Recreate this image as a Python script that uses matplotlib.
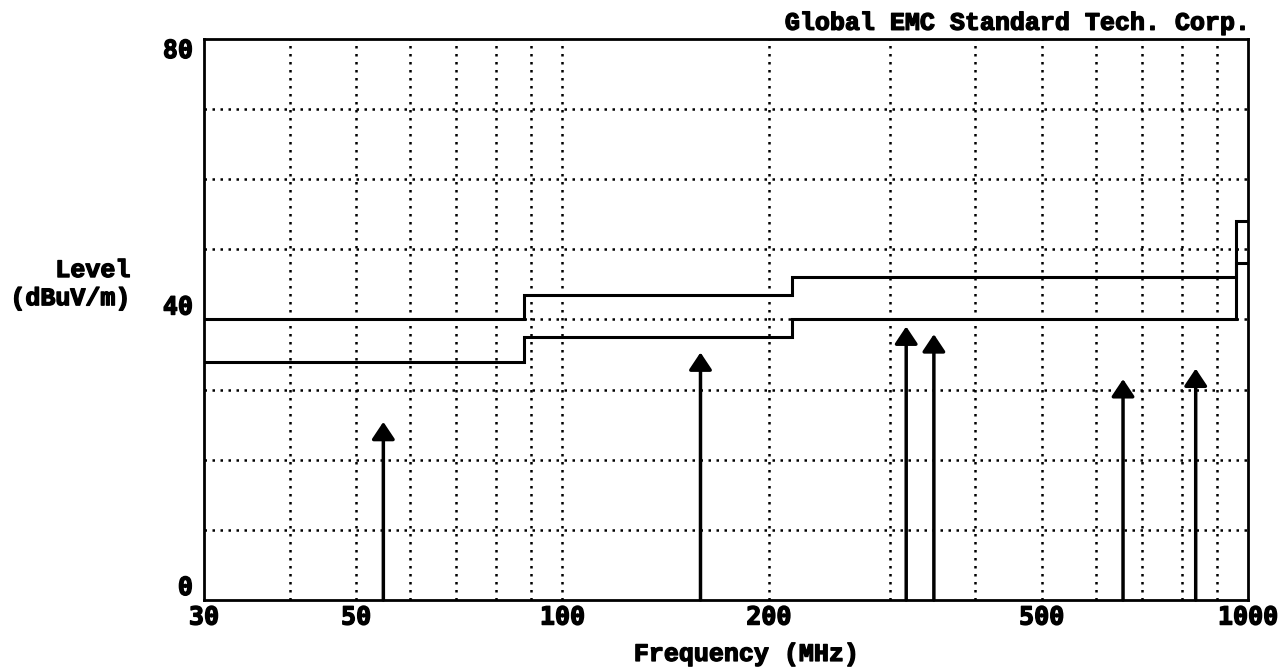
import numpy as np
import matplotlib
matplotlib.use("Agg")
import matplotlib.pyplot as plt
import matplotlib.patheffects as pe
from matplotlib.ticker import FixedLocator, NullFormatter

# limit lines (dBuV/m), stepped at the band edges
band_edges = [30, 88, 216, 960, 1000]
qp_limit = [40, 43.5, 46, 54]
margin_line = [34, 37.5, 40, 48]

# measured emission peaks
peak_freq = [54.8, 159.0, 317.3, 348.2, 657.3, 839.0]
peak_level = [25.4, 35.3, 39.0, 37.9, 31.5, 33.0]

xtick_vals = [30, 50, 100, 200, 500, 1000]
xtick_text = ["30", "50", "100", "200", "500", "1000"]
ytick_vals = [0, 40, 80]
ytick_text = ["0", "40", "80"]
grid_freqs = [40, 50, 60, 70, 80, 90, 100, 200, 300, 400, 500, 600, 700, 800, 900]
grid_levels = [10, 20, 30, 40, 50, 60, 70]

mono = "Liberation Mono"
digits = "DejaVu Sans Mono"
heavy = [pe.withStroke(linewidth=1.0, foreground="black")]

fig = plt.figure(figsize=(12.78, 6.70), dpi=100)
ax = fig.add_axes([0.1596, 0.1045, 0.8169, 0.8373])
ax.set_xscale("log")
ax.set_xlim(30, 1000)
ax.set_ylim(0, 80)

# dotted grid
dots = (0, (1, 2.2))
for f in grid_freqs:
    ax.axvline(f, color="black", lw=1.8, ls=dots, zorder=1)
for lv in grid_levels:
    ax.axhline(lv, color="black", lw=1.8, ls=dots, zorder=1)

def stepped(edges, vals):
    xs, ys = [], []
    for i, v in enumerate(vals):
        xs += [edges[i], edges[i + 1]]
        ys += [v, v]
    return xs, ys

for vals in (qp_limit, margin_line):
    xs, ys = stepped(band_edges, vals)
    ax.plot(xs, ys, color="black", lw=2.2, solid_joinstyle="miter", zorder=3)

for f, lv in zip(peak_freq, peak_level):
    ax.annotate("", xy=(f, lv), xytext=(f, 0),
                arrowprops=dict(arrowstyle="-|>,head_length=1.05,head_width=0.7",
                                lw=2.5, color="black", shrinkA=0, shrinkB=0),
                zorder=4)

for s in ax.spines.values():
    s.set_linewidth(2.0)

ax.xaxis.set_major_locator(FixedLocator(xtick_vals))
ax.set_xticklabels(xtick_text)
ax.xaxis.set_minor_locator(FixedLocator([]))
ax.xaxis.set_minor_formatter(NullFormatter())
ax.set_yticks(ytick_vals)
ax.set_yticklabels(ytick_text)
ax.tick_params(length=0, labelsize=18)
ax.tick_params(axis="x", pad=4)
ax.tick_params(axis="y", pad=8)
for lab in ax.get_xticklabels() + ax.get_yticklabels():
    lab.set_fontfamily(digits)
    lab.set_fontweight("bold")
    lab.set_path_effects(heavy)
ylabs = ax.get_yticklabels()
ylabs[0].set_va("bottom")
ylabs[1].set_va("bottom")
ylabs[2].set_va("top")

txt_kw = dict(family=mono, weight="bold", fontsize=18, path_effects=heavy)
fig.text(0.584, 0.024, "Frequency (MHz)", ha="center", va="center", **txt_kw)
fig.text(0.102, 0.597, "Level", ha="right", va="center", **txt_kw)
fig.text(0.102, 0.555, "(dBuV/m)", ha="right", va="center", **txt_kw)
fig.text(0.978, 0.966, "Global EMC Standard Tech. Corp.", ha="right",
         va="center", **txt_kw)

fig.savefig("out.png", dpi=100, facecolor="white")
